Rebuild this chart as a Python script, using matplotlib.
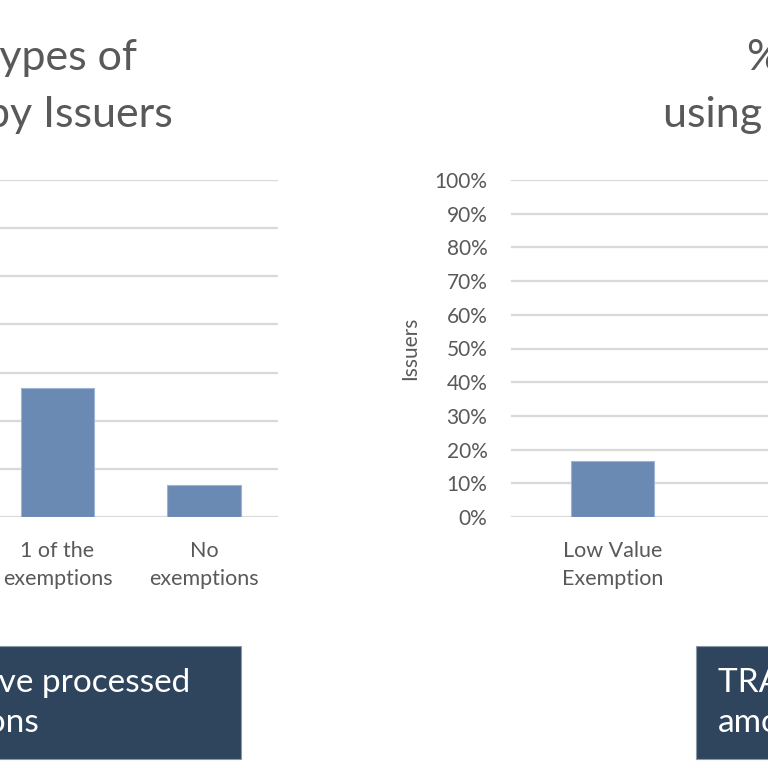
import matplotlib
matplotlib.use("Agg")
import matplotlib.pyplot as plt
from matplotlib.patches import Rectangle
from matplotlib.ticker import PercentFormatter

# left chart (only part of it is in view)
left_cats = ["1 of the\nexemptions", "No\nexemptions"]
left_vals = [0.267, 0.067]
left_ticks = [0.0, 0.1, 0.2, 0.3, 0.4, 0.5, 0.6, 0.7]

# right chart
right_cats = ["Low Value\nExemption"]
right_vals = [0.167]
right_ticks = [0.0, 0.1, 0.2, 0.3, 0.4, 0.5, 0.6, 0.7, 0.8, 0.9, 1.0]

left_title = ["Types of", "by Issuers"]
right_title = ["% of Issuers", "using exemptions"]
left_box = ["Issuers that have processed", "exemptions"]
right_box = ["TRA exemption", "amounts"]

BAR = "#6A8AB4"
GRID = "#D9D9D9"
GREY = "#595959"
NAVY = "#2F455E"
FONT = ["Lato", "DejaVu Sans"]

plt.rcParams["font.family"] = FONT

W = 768.0
fig = plt.figure(figsize=(7.68, 7.68), dpi=100)


def fx(px):
    return px / W


def fy(py):
    return 1 - py / W


def style(ax, ticks):
    ax.set_ylim(ticks[0], ticks[-1])
    ax.set_yticks(ticks)
    ax.grid(axis="y", color=GRID, linewidth=1.6)
    ax.set_axisbelow(True)
    for s in ax.spines.values():
        s.set_visible(False)
    ax.tick_params(length=0, colors=GREY)
    ax.tick_params(axis="y", labelsize=15)
    ax.tick_params(axis="x", pad=17, labelsize=15.5)
    for t in ax.get_xticklabels():
        t.set_linespacing(1.5)


# plot areas in pixel terms: top 180, baseline 517
ax1 = fig.add_axes([0, fy(517), fx(278), fx(337)])
ax1.bar(range(len(left_cats)), left_vals, width=0.5, color=BAR,
        edgecolor="#9DB4D3", linewidth=0.8)
ax1.set_xticks(range(len(left_cats)), left_cats)
ax1.set_xlim(-0.392, 1.505)
style(ax1, left_ticks)
ax1.set_yticklabels([])

ax2 = fig.add_axes([fx(511), fy(517), fx(257), fx(337)])
ax2.bar(range(len(right_cats)), right_vals, width=0.41, color=BAR,
        edgecolor="#9DB4D3", linewidth=0.8)
ax2.set_xticks(range(len(right_cats)), right_cats)
ax2.set_xlim(-0.5, 0.766)
style(ax2, right_ticks)
ax2.yaxis.set_major_formatter(PercentFormatter(1.0, decimals=0))
ax2.tick_params(axis="y", pad=17)
ax2.set_ylabel("Issuers", color=GREY, fontsize=15, labelpad=10)

# titles, cut by the edge of the picture
fig.text(fx(137), fy(70), left_title[0], ha="right", va="baseline",
         fontsize=31, color=GREY)
fig.text(fx(173), fy(127), left_title[1], ha="right", va="baseline",
         fontsize=31, color=GREY)
fig.text(fx(747), fy(70), right_title[0], ha="left", va="baseline",
         fontsize=31, color=GREY)
fig.text(fx(663), fy(127), right_title[1], ha="left", va="baseline",
         fontsize=31, color=GREY)

# dark text boxes at the bottom
fig.add_artist(Rectangle((fx(-10), fy(759)), fx(251), fx(113),
                         transform=fig.transFigure, facecolor=NAVY,
                         edgecolor="#8A98A8", linewidth=0.8))
fig.add_artist(Rectangle((fx(696), fy(759)), fx(90), fx(113),
                         transform=fig.transFigure, facecolor=NAVY,
                         edgecolor="#8A98A8", linewidth=0.8))
fig.text(fx(190), fy(692), left_box[0], ha="right", va="baseline",
         fontsize=24, color="white")
fig.text(fx(39), fy(732), left_box[1], ha="right", va="baseline",
         fontsize=24, color="white")
fig.text(fx(718), fy(692), right_box[0], ha="left", va="baseline",
         fontsize=24, color="white")
fig.text(fx(718), fy(732), right_box[1], ha="left", va="baseline",
         fontsize=24, color="white")

fig.savefig("out.png", dpi=100)
